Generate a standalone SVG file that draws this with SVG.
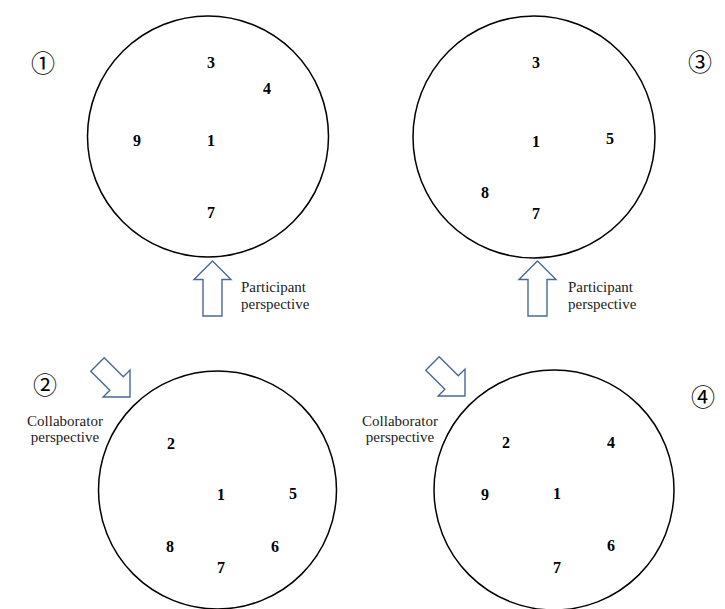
<svg xmlns="http://www.w3.org/2000/svg" width="725" height="609" viewBox="0 0 725 609">
<style>
.ring{fill:none;stroke:#000;stroke-width:1.5}
.num{font-family:"Liberation Serif",serif;font-weight:bold;font-size:16px;text-anchor:middle;fill:#000}
.lbl{font-family:"Liberation Serif",serif;font-size:15px;fill:#222}
.mid{text-anchor:middle}
.idx{font-family:"Noto Sans CJK JP","DejaVu Sans",sans-serif;font-size:24px;text-anchor:middle;fill:#000}
.arr{fill:#fff;stroke:#4a6890;stroke-width:1.4;stroke-linejoin:miter}
</style>
<defs>
<path id="upArrow" d="M0,0 L18.5,18.5 L9.5,18.5 L9.5,55 L-9.5,55 L-9.5,18.5 L-18.5,18.5 Z"/>
<path id="diagArrow" d="M0,0 L19,19 L9.5,19 L9.5,46 L-9.5,46 L-9.5,19 L-19,19 Z"/>
</defs>
<rect width="725" height="609" fill="#fff"/>

<g id="panel1">
<circle class="ring" cx="208" cy="136.5" r="120.5"/>
<text class="idx" x="43" y="72">①</text>
<text class="num" x="211" y="68">3</text>
<text class="num" x="267" y="94">4</text>
<text class="num" x="137" y="146">9</text>
<text class="num" x="211" y="146">1</text>
<text class="num" x="211" y="218">7</text>
</g>

<g id="panel3">
<circle class="ring" cx="534" cy="137" r="121"/>
<text class="idx" x="700" y="71">③</text>
<text class="num" x="536" y="68">3</text>
<text class="num" x="536" y="147">1</text>
<text class="num" x="610" y="144">5</text>
<text class="num" x="485" y="198">8</text>
<text class="num" x="536" y="219">7</text>
</g>

<g id="panel2">
<circle class="ring" cx="217.5" cy="490" r="119"/>
<text class="idx" x="45" y="394">②</text>
<text class="num" x="171" y="449">2</text>
<text class="num" x="221" y="500">1</text>
<text class="num" x="293" y="499">5</text>
<text class="num" x="170" y="552">8</text>
<text class="num" x="275" y="552">6</text>
<text class="num" x="221" y="573">7</text>
</g>

<g id="panel4">
<circle class="ring" cx="554" cy="490" r="120"/>
<text class="idx" x="703" y="406">④</text>
<text class="num" x="506" y="448">2</text>
<text class="num" x="611" y="448">4</text>
<text class="num" x="485" y="500">9</text>
<text class="num" x="557" y="499">1</text>
<text class="num" x="611" y="551">6</text>
<text class="num" x="557" y="573">7</text>
</g>

<g id="perspectives">
<use href="#upArrow" class="arr" x="212.5" y="261"/>
<text class="lbl" x="241" y="292">Participant</text>
<text class="lbl" x="241" y="309">perspective</text>

<use href="#upArrow" class="arr" x="537.5" y="261"/>
<text class="lbl" x="568" y="292">Participant</text>
<text class="lbl" x="568" y="309">perspective</text>

<use href="#diagArrow" class="arr" transform="translate(130,397) rotate(135)"/>
<text class="lbl mid" x="65" y="426">Collaborator</text>
<text class="lbl mid" x="65" y="442">perspective</text>

<use href="#diagArrow" class="arr" transform="translate(465,396) rotate(135)"/>
<text class="lbl mid" x="400" y="426">Collaborator</text>
<text class="lbl mid" x="400" y="442">perspective</text>
</g>
</svg>
